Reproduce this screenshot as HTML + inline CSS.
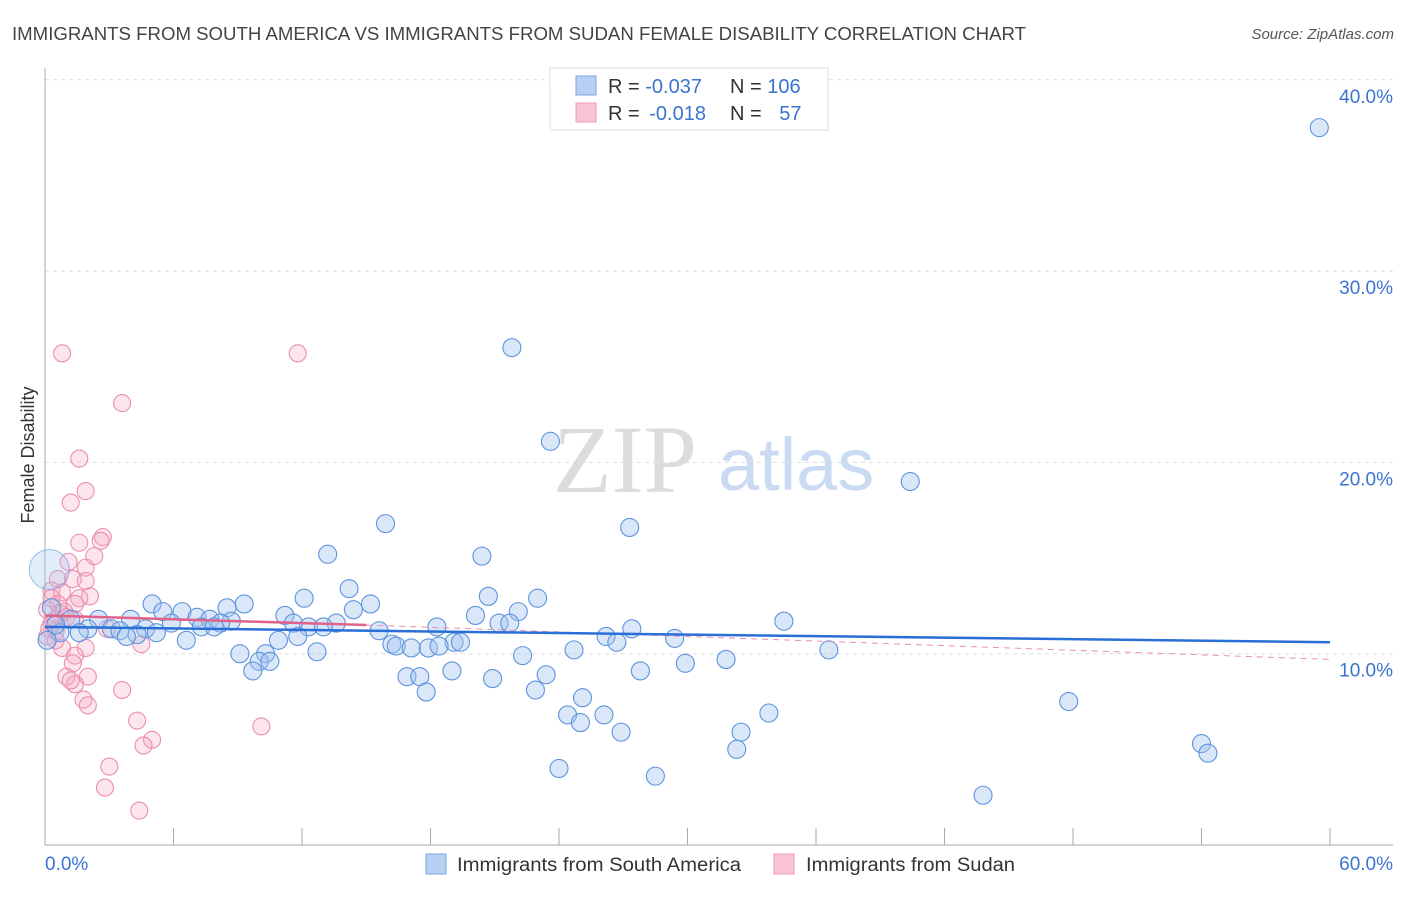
<!DOCTYPE html>
<html><head><meta charset="utf-8"><style>
body{margin:0;background:#fff;font-family:"Liberation Sans",sans-serif;}
svg text{font-family:"Liberation Sans",sans-serif;}
</style></head><body>
<svg width="1406" height="892" id="chart">
<text x="12" y="40" font-size="18.5" fill="#444" textLength="1014" lengthAdjust="spacingAndGlyphs">IMMIGRANTS FROM SOUTH AMERICA VS IMMIGRANTS FROM SUDAN FEMALE DISABILITY CORRELATION CHART</text>
<text x="1394" y="39" font-size="15" fill="#555" font-style="italic" text-anchor="end">Source: ZipAtlas.com</text>
<text x="34" y="455" font-size="18" fill="#333" text-anchor="middle" transform="rotate(-90 34 455)">Female Disability</text>
<g>
<text x="553" y="492" font-size="96" fill="#dcdcdc" font-family="Liberation Serif,serif" style="font-family:'Liberation Serif',serif">ZIP</text>
<text x="718" y="490" font-size="74" fill="#c9daf2">atlas</text>
</g>
<g id="grid"></g>
<g id="axes"></g>
<g id="pts"></g>
<g id="trend"></g>
<g>
<rect x="550" y="68" width="278" height="62" fill="#fff" stroke="#ddd"/>
<rect x="576" y="76" width="20" height="19" fill="#b7d0f3" stroke="#7aa6e3"/>
<rect x="576" y="103" width="20" height="19" fill="#f9c5d5" stroke="#ee9ab5"/>
<text x="608" y="93" font-size="20" fill="#333">R = <tspan fill="#3b74d0">-0.037</tspan></text>
<text x="730" y="93" font-size="20" fill="#333">N = <tspan fill="#3b74d0">106</tspan></text>
<text x="608" y="120" font-size="20" fill="#333">R = <tspan fill="#3b74d0" dx="4">-0.018</tspan></text>
<text x="730" y="120" font-size="20" fill="#333">N = <tspan fill="#3b74d0" dx="12">57</tspan></text>
</g>
<g>
<rect x="426" y="854" width="20" height="20" fill="#b7d0f3" stroke="#7aa6e3"/>
<text x="457" y="871" font-size="19" fill="#333" textLength="284" lengthAdjust="spacingAndGlyphs">Immigrants from South America</text>
<rect x="774" y="854" width="20" height="20" fill="#f9c5d5" stroke="#ee9ab5"/>
<text x="806" y="871" font-size="19" fill="#333" textLength="209" lengthAdjust="spacingAndGlyphs">Immigrants from Sudan</text>
</g>
</svg>
<script>
const yTicks=[10,20,30,40];
const yTickLabels=["10.0%","20.0%","30.0%","40.0%"];
const xTickVals=[6,12,18,24,30,36,42,48,54,60];
const blueX=[59.5,21.8,23.6,40.4,27.3,15.9,13.2,20.4,14.2,20.7,23.0,12.1,15.2,5.0,9.3,8.5,5.5,6.4,14.4,22.1,20.1,11.2,7.1,7.7,4.0,34.5,2.5,8.7,8.2,5.9,1.2,13.6,12.3,13.0,21.2,21.7,18.3,27.4,7.3,7.9,11.6,4.7,3.1,2.0,3.5,15.6,1.6,0.7,5.2,4.3,3.8,11.8,26.2,29.4,6.6,10.9,19.1,19.4,26.7,16.2,16.4,17.1,17.9,18.4,36.6,24.7,12.7,9.1,10.3,22.3,31.8,29.9,10.0,10.5,9.7,27.8,19.0,23.4,16.9,17.5,20.9,17.8,22.9,25.1,47.8,33.8,24.4,26.1,25.0,32.5,26.9,32.3,54.0,54.3,24.0,28.5,43.8,0.3,0.5,0.1];
const blueY=[37.5,26.0,21.1,19.0,16.6,16.8,15.2,15.1,13.4,13.0,12.9,12.9,12.6,12.6,12.6,12.4,12.2,12.2,12.3,12.2,12.0,12.0,11.9,11.8,11.8,11.7,11.8,11.7,11.6,11.6,11.8,11.6,11.4,11.4,11.6,11.6,11.4,11.3,11.4,11.4,11.6,11.3,11.3,11.3,11.2,11.2,11.1,11.1,11.1,11.0,10.9,10.9,10.9,10.8,10.7,10.7,10.6,10.6,10.6,10.5,10.4,10.3,10.3,10.4,10.2,10.2,10.1,10.0,10.0,9.9,9.7,9.5,9.6,9.6,9.1,9.1,9.1,8.9,8.8,8.8,8.7,8.0,8.1,7.7,7.5,6.9,6.8,6.8,6.4,5.9,5.9,5.0,5.3,4.8,4.0,3.6,2.6,12.4,11.5,10.7];
const bigBlueX=[0.2], bigBlueY=[14.4];
const pinkX=[0.8,11.8,3.6,1.6,1.9,1.2,2.7,2.6,1.6,2.3,1.1,1.9,0.6,1.3,1.9,0.3,0.8,2.1,1.6,0.6,1.4,0.1,0.7,1.0,1.4,0.3,0.5,0.1,0.5,0.8,1.9,4.5,1.4,1.3,1.0,1.4,1.2,2.0,3.6,1.8,2.0,10.1,4.3,5.0,4.6,3.0,2.8,4.4,0.3,0.9,0.5,0.2,2.9];
const pinkY=[25.7,25.7,23.1,20.2,18.5,17.9,16.1,15.9,15.8,15.1,14.8,14.5,13.9,13.9,13.8,13.3,13.2,13.0,12.9,12.6,12.6,12.3,12.1,11.9,11.8,11.6,11.2,10.9,10.7,10.3,10.3,10.5,9.9,9.5,8.8,8.4,8.6,8.8,8.1,7.6,7.3,6.2,6.5,5.5,5.2,4.1,3.0,1.8,12.9,12.2,11.8,11.3,11.3];
const blueTrend=[11.4,10.6];
const pinkTrendSolid=[0,15,12.0,11.5];
const pinkTrendDash=[15,60,11.5,9.7];
const X=v=>45+v*1285/60, Y=v=>845-v*19.13;
const NS="http://www.w3.org/2000/svg";
function mk(parent,tag,attrs){const e=document.createElementNS(NS,tag);for(const k in attrs)e.setAttribute(k,attrs[k]);document.getElementById(parent).appendChild(e);return e;}
yTicks.forEach((t,i)=>{
 const l=mk('grid','line',{x1:45,x2:1393,y1:Y(t),y2:Y(t),stroke:'#ddd','stroke-dasharray':'4,4'});
 
 
 const tx=mk('grid','text',{x:1393,y:Y(t)+23,'text-anchor':'end','font-size':19,fill:'#3b74d0'});
 tx.textContent=yTickLabels[i];
 
 
});
let a=mk('axes','line',{x1:45,x2:45,y1:68,y2:845,stroke:'#aaa'});


a=mk('axes','line',{x1:45,x2:1393,y1:845,y2:845,stroke:'#aaa'});


xTickVals.forEach(t=>{const l=mk('axes','line',{x1:X(t),x2:X(t),y1:828,y2:845,stroke:'#aaa'});
 
 });
a=mk('axes','text',{x:45,y:870,'font-size':19,fill:'#3b74d0'});a.textContent='0.0%';


a=mk('axes','text',{x:1393,y:870,'font-size':19,fill:'#3b74d0','text-anchor':'end'});a.textContent='60.0%';


pinkX.forEach((x,i)=>{const c=mk('pts','circle',{cx:X(x),cy:Y(pinkY[i]),r:8.5,fill:'rgba(246,170,196,0.3)',stroke:'#ea8fad','stroke-width':1.1});
 
 });
blueX.forEach((x,i)=>{const c=mk('pts','circle',{cx:X(x),cy:Y(blueY[i]),r:9,fill:'rgba(160,196,240,0.4)',stroke:'#5d93dd','stroke-width':1.1});
 
 });
bigBlueX.forEach((x,i)=>{const c=mk('pts','circle',{cx:X(x),cy:Y(bigBlueY[i]),r:20,fill:'rgba(160,196,240,0.3)',stroke:'rgba(93,147,221,0.6)','stroke-width':1});
 
 });
let t=mk('trend','line',{x1:X(pinkTrendDash[0]),x2:X(pinkTrendDash[1]),y1:Y(pinkTrendDash[2]),y2:Y(pinkTrendDash[3]),stroke:'#ea8fad','stroke-width':1,'stroke-dasharray':'6,5'});


t=mk('trend','line',{x1:X(0),x2:X(60),y1:Y(blueTrend[0]),y2:Y(blueTrend[1]),stroke:'#2a6fd6','stroke-width':2.5});


t=mk('trend','line',{x1:X(pinkTrendSolid[0]),x2:X(pinkTrendSolid[1]),y1:Y(pinkTrendSolid[2]),y2:Y(pinkTrendSolid[3]),stroke:'#e0628a','stroke-width':2.5});


</script>
</body></html>
